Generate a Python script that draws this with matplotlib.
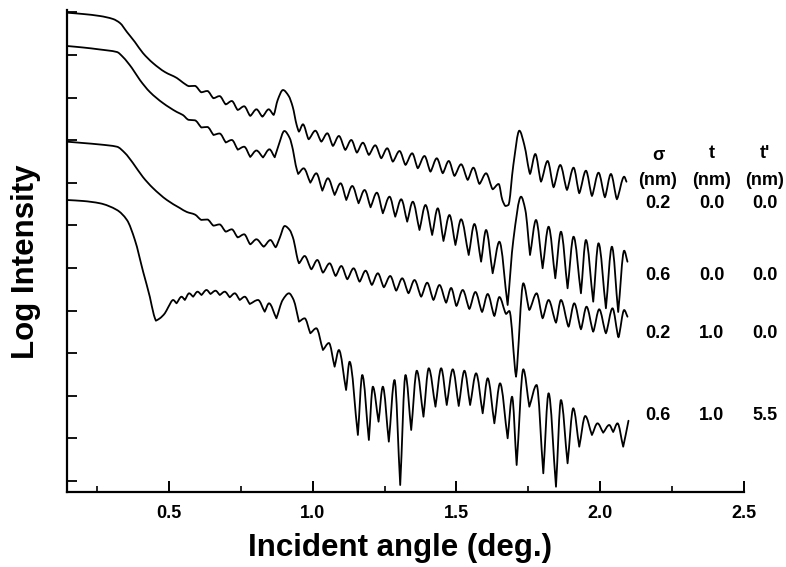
import matplotlib
matplotlib.use("Agg")
import matplotlib.pyplot as plt
from matplotlib.path import Path
from matplotlib.patches import PathPatch
from matplotlib.ticker import MultipleLocator, FixedLocator, NullFormatter

plt.rcParams['font.family'] = ['Liberation Sans', 'DejaVu Sans']
plt.rcParams['font.weight'] = 'bold'

# ---- data: incident angle (deg) and log intensity (decades, arbitrary offset) ----
c1_angle = [0.1458, 0.2014, 0.2604, 0.3056, 0.3299, 0.3542, 0.3819, 0.4097, 0.4444, 0.4861,
            0.5278, 0.5486, 0.5694, 0.5903, 0.6128, 0.6337, 0.6552, 0.6764, 0.6979, 0.7188,
            0.7396, 0.7618, 0.7830, 0.8045, 0.8253, 0.8472, 0.8646, 0.8785, 0.8969, 0.9167,
            0.9306, 0.9444, 0.9524, 0.9663, 0.9861, 1.0094, 1.0302, 1.0510, 1.0705, 1.0913,
            1.1135, 1.1344, 1.1538, 1.1747, 1.1955, 1.2177, 1.2385, 1.2594, 1.2788, 1.3021,
            1.3229, 1.3462, 1.3656, 1.3889, 1.4097, 1.4316, 1.4524, 1.4733, 1.4931, 1.5163,
            1.5392, 1.5590, 1.5799, 1.6031, 1.6260, 1.6469, 1.6597, 1.6701, 1.6806, 1.6979,
            1.7188, 1.7361, 1.7559, 1.7743, 1.7941, 1.8170, 1.8378, 1.8611, 1.8844, 1.9073,
            1.9271, 1.9503, 1.9712, 1.9941, 2.0163, 2.0372, 2.0580, 2.0833, 2.0913]
c1_logI = [10.993, 10.962, 10.915, 10.845, 10.751, 10.540, 10.305, 10.047, 9.812, 9.601,
           9.460, 9.354, 9.268, 9.275, 9.124, 9.155, 8.984, 9.035, 8.840, 8.920,
           8.709, 8.796, 8.570, 8.725, 8.552, 8.725, 8.592, 8.944, 9.178, 9.038,
           8.786, 8.357, 8.200, 8.373, 8.021, 8.223, 7.965, 8.162, 7.864, 8.099,
           7.770, 8.005, 7.707, 7.941, 7.653, 7.880, 7.575, 7.810, 7.495, 7.746,
           7.418, 7.692, 7.340, 7.629, 7.261, 7.575, 7.223, 7.512, 7.160, 7.434,
           7.066, 7.355, 6.972, 7.223, 6.847, 6.972, 6.596, 6.455, 6.479, 7.418,
           8.223, 7.887, 7.207, 7.676, 7.026, 7.512, 6.894, 7.418, 6.831, 7.355,
           6.754, 7.284, 6.690, 7.237, 6.660, 7.207, 6.613, 7.143, 7.026]

c2_angle = [0.1458, 0.2014, 0.2604, 0.3194, 0.3403, 0.3715, 0.3993, 0.4340, 0.4792, 0.5278,
            0.5486, 0.5694, 0.5903, 0.6128, 0.6337, 0.6552, 0.6764, 0.6979, 0.7188, 0.7396,
            0.7618, 0.7830, 0.8045, 0.8274, 0.8497, 0.8681, 0.8819, 0.9017, 0.9201, 0.9316,
            0.9410, 0.9497, 0.9688, 0.9920, 1.0128, 1.0337, 1.0531, 1.0764, 1.0972, 1.1170,
            1.1378, 1.1597, 1.1806, 1.2014, 1.2233, 1.2441, 1.2674, 1.2872, 1.3080, 1.3288,
            1.3483, 1.3715, 1.3924, 1.4156, 1.4351, 1.4549, 1.4757, 1.4965, 1.5163, 1.5427,
            1.5625, 1.5858, 1.6031, 1.6260, 1.6493, 1.6781, 1.6979, 1.7247, 1.7396, 1.7559,
            1.7767, 1.7997, 1.8205, 1.8438, 1.8635, 1.8865, 1.9073, 1.9330, 1.9503, 1.9757,
            1.9941, 2.0198, 2.0406, 2.0625, 2.0833, 2.0948]
c2_logI = [10.211, 10.176, 10.129, 10.070, 9.953, 9.695, 9.413, 9.131, 8.873, 8.662,
           8.592, 8.477, 8.467, 8.298, 8.310, 8.122, 8.157, 7.946, 8.005, 7.777,
           7.847, 7.606, 7.758, 7.594, 7.786, 7.599, 7.887, 8.216, 8.052, 7.770,
           7.418, 7.207, 7.340, 7.002, 7.223, 6.815, 7.106, 6.714, 6.988, 6.596,
           6.925, 6.519, 6.831, 6.425, 6.768, 6.284, 6.674, 6.204, 6.613, 6.087,
           6.556, 5.892, 6.479, 5.775, 6.401, 5.634, 6.244, 5.540, 6.143, 5.305,
           6.033, 5.148, 5.892, 4.876, 5.617, 4.131, 5.657, 6.674, 6.362, 5.305,
           6.127, 4.993, 5.969, 4.758, 5.852, 4.523, 5.735, 4.406, 5.657, 4.209,
           5.580, 4.054, 5.500, 3.967, 5.406, 5.148]

c3_angle = [0.1458, 0.2014, 0.2604, 0.3194, 0.3472, 0.3750, 0.4097, 0.4444, 0.4931, 0.5382,
            0.5625, 0.5903, 0.6128, 0.6337, 0.6552, 0.6764, 0.6979, 0.7188, 0.7396, 0.7618,
            0.7830, 0.8045, 0.8299, 0.8531, 0.8715, 0.8854, 0.9028, 0.9201, 0.9340, 0.9444,
            0.9524, 0.9722, 0.9955, 1.0163, 1.0358, 1.0590, 1.0799, 1.0997, 1.1205, 1.1424,
            1.1632, 1.1840, 1.2059, 1.2267, 1.2476, 1.2698, 1.2906, 1.3115, 1.3333, 1.3542,
            1.3774, 1.3983, 1.4201, 1.4410, 1.4642, 1.4816, 1.5000, 1.5219, 1.5451, 1.5660,
            1.5892, 1.6087, 1.6319, 1.6493, 1.6726, 1.6840, 1.7073, 1.7326, 1.7535, 1.7788,
            1.7997, 1.8205, 1.8462, 1.8635, 1.8899, 1.9097, 1.9330, 1.9524, 1.9757, 1.9965,
            2.0198, 2.0427, 2.0635, 2.0833, 2.0948]
c3_logI = [7.965, 7.934, 7.899, 7.847, 7.700, 7.465, 7.136, 6.878, 6.596, 6.408,
           6.315, 6.256, 6.129, 6.138, 5.993, 6.023, 5.852, 5.908, 5.718, 5.791,
           5.556, 5.674, 5.500, 5.657, 5.486, 5.704, 5.986, 5.892, 5.657, 5.305,
           5.110, 5.282, 4.969, 5.188, 4.890, 5.110, 4.812, 5.047, 4.735, 4.993,
           4.678, 4.937, 4.601, 4.876, 4.547, 4.812, 4.467, 4.758, 4.406, 4.718,
           4.326, 4.655, 4.249, 4.601, 4.185, 4.531, 4.108, 4.484, 4.038, 4.437,
           3.967, 4.390, 3.873, 4.319, 3.920, 3.991, 2.448, 4.641, 4.014, 4.406,
           3.819, 4.249, 3.716, 4.249, 3.622, 4.171, 3.561, 4.092, 3.505, 4.031,
           3.467, 4.054, 3.373, 4.014, 3.857]

c4_angle = [0.1458, 0.2014, 0.2604, 0.3194, 0.3542, 0.3819, 0.4108, 0.4340, 0.4479, 0.4549,
            0.4688, 0.4861, 0.4976, 0.5149, 0.5267, 0.5441, 0.5556, 0.5705, 0.5844, 0.5997,
            0.6135, 0.6309, 0.6448, 0.6622, 0.6771, 0.6944, 0.7118, 0.7292, 0.7465, 0.7639,
            0.7813, 0.8101, 0.8333, 0.8483, 0.8740, 0.8958, 0.9177, 0.9340, 0.9434, 0.9524,
            0.9722, 0.9920, 1.0128, 1.0358, 1.0566, 1.0764, 1.0913, 1.1163, 1.1285, 1.1573,
            1.1726, 1.1955, 1.2094, 1.2292, 1.2441, 1.2649, 1.2847, 1.3045, 1.3229, 1.3427,
            1.3622, 1.3854, 1.4038, 1.4271, 1.4469, 1.4663, 1.4872, 1.5080, 1.5278, 1.5476,
            1.5684, 1.5913, 1.6087, 1.6319, 1.6517, 1.6781, 1.6934, 1.7094, 1.7326, 1.7535,
            1.7788, 1.8021, 1.8205, 1.8462, 1.8635, 1.8865, 1.9063, 1.9271, 1.9479, 1.9712,
            1.9906, 2.0104, 2.0313, 2.0451, 2.0601, 2.0799, 2.0983]
c4_logI = [6.596, 6.573, 6.519, 6.362, 6.127, 5.657, 4.906, 4.319, 3.897, 3.763,
           3.819, 3.937, 4.077, 4.249, 4.171, 4.326, 4.249, 4.406, 4.326, 4.444,
           4.366, 4.484, 4.390, 4.467, 4.366, 4.444, 4.312, 4.406, 4.249, 4.326,
           4.155, 4.249, 3.974, 4.171, 3.819, 4.249, 4.406, 4.249, 4.014, 3.739,
           3.819, 3.467, 3.585, 3.075, 3.239, 2.683, 3.075, 2.136, 2.800, 1.080,
           2.488, 0.962, 2.214, 1.392, 2.214, 0.923, 2.371, -0.094, 2.488, 1.197,
           2.589, 1.509, 2.646, 1.744, 2.646, 1.784, 2.622, 1.761, 2.589, 1.784,
           2.528, 1.589, 2.411, 1.354, 2.293, 1.002, 1.979, 0.376, 2.622, 1.744,
           2.254, 0.181, 2.059, -0.134, 1.901, 0.415, 1.707, 0.805, 1.526, 1.080,
           1.354, 1.134, 1.315, 1.150, 1.354, 0.805, 1.415]

# (angles, log intensity, sharpness of the fringe minima used for drawing)
curves = [(c1_angle, c1_logI, 0.5), (c2_angle, c2_logI, 0.9),
          (c3_angle, c3_logI, 0.5), (c4_angle, c4_logI, 0.9)]

# legend table (sigma, t, t') in nm
sigma_vals = ["0.2", "0.6", "0.2", "0.6"]
t_vals = ["0.0", "0.0", "1.0", "1.0"]
tp_vals = ["0.0", "0.0", "0.0", "5.5"]

x_major = [0.5, 1.0, 1.5, 2.0, 2.5]
x_labels = ["0.5", "1.0", "1.5", "2.0", "2.5"]
y_ticks = list(range(0, 12))


def smooth_path(xs, ys, k):
    """Cubic Bezier path passing through every data point: rounded maxima,
    sharper minima (k=1 -> corner, k=0 -> rounded)."""
    n = len(xs)
    sec = [(ys[i + 1] - ys[i]) / (xs[i + 1] - xs[i]) for i in range(n - 1)]
    m_in = [0.0] * n
    m_out = [0.0] * n
    for i in range(n):
        if i == 0:
            m_in[i] = m_out[i] = sec[0]
        elif i == n - 1:
            m_in[i] = m_out[i] = sec[-1]
        else:
            a, b = sec[i - 1], sec[i]
            if a > 0 and b < 0:
                m_in[i] = m_out[i] = 0.0
            elif a < 0 and b > 0:
                m_in[i] = k * a
                m_out[i] = k * b
            elif a * b > 0:
                m_in[i] = m_out[i] = 2 * a * b / (a + b)
            else:
                m_in[i] = m_out[i] = 0.0
    verts = [(xs[0], ys[0])]
    codes = [Path.MOVETO]
    for i in range(n - 1):
        h = xs[i + 1] - xs[i]
        verts.append((xs[i] + h / 3, ys[i] + m_out[i] * h / 3))
        verts.append((xs[i + 1] - h / 3, ys[i + 1] - m_in[i + 1] * h / 3))
        verts.append((xs[i + 1], ys[i + 1]))
        codes += [Path.CURVE4] * 3
    return Path(verts, codes)


# ---- figure ----
W, H = 786, 567
fig = plt.figure(figsize=(W / 100, H / 100), dpi=100)
ax = fig.add_axes([67 / W, 1 - 492 / H, 677 / W, 482 / H])

for a, li, k in curves:
    ax.add_patch(PathPatch(smooth_path(a, li, k), fill=False, edgecolor='black',
                           lw=1.3, joinstyle='round', capstyle='round'))

ax.set_xlim(0.1458, 2.5)
ax.set_ylim(-0.258, 11.056)

for s in ['top', 'right']:
    ax.spines[s].set_visible(False)
for s in ['left', 'bottom']:
    ax.spines[s].set_linewidth(1.6)

ax.xaxis.set_major_locator(FixedLocator(x_major))
ax.set_xticklabels(x_labels, fontsize=13, fontweight='bold')
ax.xaxis.set_minor_locator(MultipleLocator(0.25))
ax.yaxis.set_major_locator(FixedLocator(y_ticks))
ax.yaxis.set_major_formatter(NullFormatter())
ax.tick_params(axis='x', which='major', direction='in', length=8, width=1.4, pad=9)
ax.tick_params(axis='x', which='minor', direction='in', length=4, width=1.2)
ax.tick_params(axis='y', which='major', direction='in', length=7, width=1.3)

fig.text(400 / W, 1 - 548 / H, "Incident angle (deg.)", fontsize=22.5, fontweight='bold',
         ha='center', va='center')
fig.text(26 / W, 1 - 262 / H, "Log Intensity", fontsize=22.5, fontweight='bold',
         ha='center', va='center', rotation=90)

col_x = [658, 712, 765]
fig.text(col_x[0] / W, 1 - 156 / H, "σ", fontsize=13, fontweight='bold', ha='center', va='center')
fig.text(col_x[1] / W, 1 - 154 / H, "t", fontsize=13, fontweight='bold', ha='center', va='center')
fig.text(col_x[2] / W, 1 - 154 / H, "t'", fontsize=13, fontweight='bold', ha='center', va='center')
for cx in col_x:
    fig.text(cx / W, 1 - 181 / H, "(nm)", fontsize=13, fontweight='bold', ha='center', va='center')

row_y = [203, 276, 333, 416]
for ry, s, t, tp in zip(row_y, sigma_vals, t_vals, tp_vals):
    for cx, v in zip(col_x, [s, t, tp]):
        fig.text(cx / W, 1 - ry / H, v, fontsize=13, fontweight='bold', ha='center', va='center')

fig.savefig("out.png", dpi=100)
